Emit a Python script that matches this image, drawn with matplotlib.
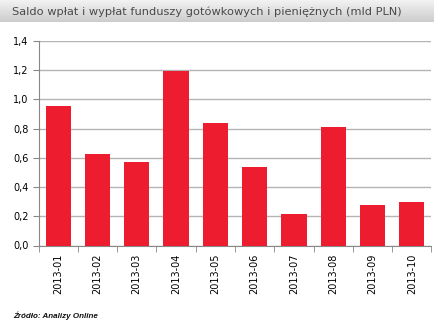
import matplotlib
matplotlib.use('Agg')
import matplotlib.pyplot as plt
import numpy as np

months = ['2013-01', '2013-02', '2013-03', '2013-04', '2013-05',
          '2013-06', '2013-07', '2013-08', '2013-09', '2013-10']
saldo = [0.955, 0.625, 0.575, 1.195, 0.84, 0.54, 0.215, 0.81, 0.275, 0.30]
y_ticks = [0.0, 0.2, 0.4, 0.6, 0.8, 1.0, 1.2, 1.4]

title = 'Saldo wpłat i wypłat funduszy gotówkowych i pieniężnych (mld PLN)'
source = 'Źródło: Analizy Online'

my_dpi = 100
fig = plt.figure(figsize=(435/my_dpi, 327/my_dpi), dpi=my_dpi)

# gray gradient band behind the title
band = fig.add_axes([0, 1 - 22/327, 1, 22/327])
grad = np.linspace(0.95, 0.80, 50).reshape(-1, 1)
band.imshow(np.repeat(grad, 2, axis=1), cmap='gray', vmin=0, vmax=1,
            aspect='auto', extent=[0, 1, 0, 1])
band.axis('off')
fig.text(12/435, 1 - 12/327, title, fontsize=8.2, color='#4a4a4a',
         va='center', ha='left')

ax = fig.add_axes([38.5/435, 1 - 245.5/327, 393/435, 204.5/327])
x = np.arange(len(months))
ax.bar(x, saldo, width=0.64, color='#ed1c2e', zorder=3)

ax.set_xlim(-0.5, len(months) - 0.5)
ax.set_ylim(0, 1.4)
ax.set_yticks(y_ticks)
ax.set_yticklabels([('%.1f' % v).replace('.', ',') for v in y_ticks], fontsize=7)
ax.set_xticks(x)
ax.set_xticklabels(months, rotation=90, fontsize=7)
ax.tick_params(axis='x', length=0, pad=6)
ax.set_xticks(np.arange(-0.5, len(months)), minor=True)
ax.tick_params(axis='x', which='minor', length=4, color='#888888')
ax.tick_params(axis='y', length=4, color='#888888', pad=3)
ax.grid(axis='y', color='#b4b4b4', linewidth=1, zorder=0)
for side in ['top', 'right']:
    ax.spines[side].set_visible(False)
for side in ['left', 'bottom']:
    ax.spines[side].set_color('#888888')

fig.text(13/435, 1 - 316/327, source, fontsize=5.8, style='italic',
         weight='bold', family='Liberation Sans', color='#101010',
         va='center', ha='left')

plt.savefig('out.png', dpi=my_dpi)
plt.close()
